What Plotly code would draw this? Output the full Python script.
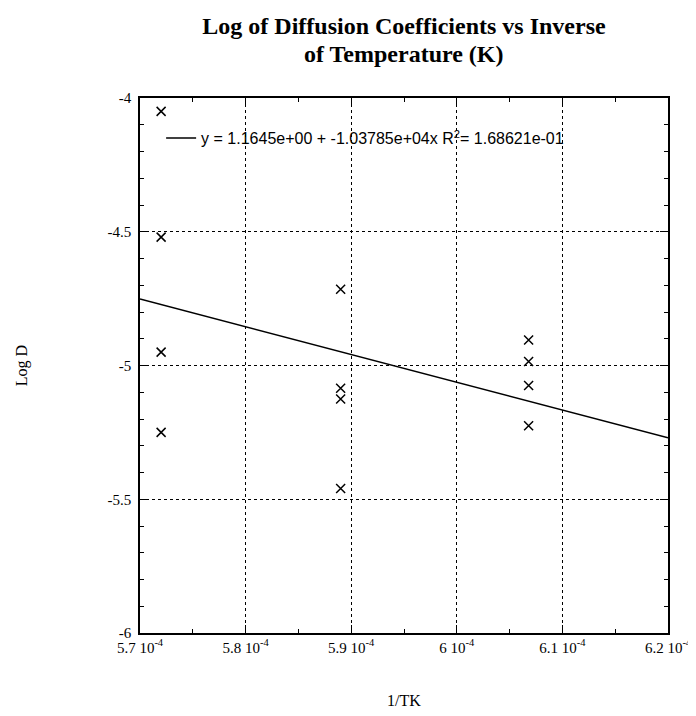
import plotly.graph_objects as go

# Data
inv_t = [5.72e-4, 5.72e-4, 5.72e-4, 5.72e-4,
         5.89e-4, 5.89e-4, 5.89e-4, 5.89e-4,
         6.068e-4, 6.068e-4, 6.068e-4, 6.068e-4]
log_d = [-4.05, -4.52, -4.95, -5.25,
         -4.715, -5.085, -5.125, -5.46,
         -4.905, -4.985, -5.075, -5.225]

fit_intercept = 1.1645
fit_slope = -1.03785e4
fit_x = [5.7e-4, 6.2e-4]
fit_y = [fit_intercept + fit_slope * v for v in fit_x]
fit_label = "y = 1.1645e+00 + -1.03785e+04x R<sup>2</sup>= 1.68621e-01"

title_line1 = "Log of Diffusion Coefficients vs Inverse"
title_line2 = "of Temperature (K)"

x_tickvals = [5.7e-4, 5.8e-4, 5.9e-4, 6.0e-4, 6.1e-4, 6.2e-4]
x_ticktext = ["5.7 10<sup>-4</sup>", "5.8 10<sup>-4</sup>", "5.9 10<sup>-4</sup>",
              "6 10<sup>-4</sup>", "6.1 10<sup>-4</sup>", "6.2 10<sup>-4</sup>"]
y_tickvals = [-6, -5.5, -5, -4.5, -4]
y_ticktext = ["-6", "-5.5", "-5", "-4.5", "-4"]

serif = "Liberation Serif, Times New Roman, serif"
sans = "Liberation Sans, Arial, sans-serif"

fig = go.Figure()
fig.add_trace(go.Scatter(
    x=fit_x, y=fit_y, mode="lines", name=fit_label,
    line=dict(color="black", width=1.5), showlegend=True))
fig.add_trace(go.Scatter(
    x=inv_t, y=log_d, mode="markers", showlegend=False,
    marker=dict(symbol="x-thin", size=9, color="black",
                line=dict(color="black", width=1.5))))

axis_common = dict(
    showline=True, linecolor="black", linewidth=1.5, mirror="allticks",
    ticks="inside", ticklen=8, tickcolor="black", tickwidth=1,
    showgrid=True, gridcolor="black", griddash="dot", gridwidth=1,
    zeroline=False,
    tickfont=dict(family=serif, size=15, color="black"),
)

fig.update_layout(
    width=696, height=716,
    paper_bgcolor="white", plot_bgcolor="white",
    margin=dict(l=127, r=36, t=90, b=91),
    title=dict(
        text="<b>" + title_line1 + "</b>",
        x=0.5, xref="paper", xanchor="center",
        y=0.975, yref="container", yanchor="middle",
        font=dict(family=serif, size=24, color="black")),
    annotations=[dict(
        text="<b>" + title_line2 + "</b>", showarrow=False,
        x=0.5, xref="paper", xanchor="center",
        y=1.082, yref="paper", yanchor="middle",
        font=dict(family=serif, size=24, color="black"))],
    xaxis=dict(
        range=[5.7e-4, 6.2e-4], tickvals=x_tickvals, ticktext=x_ticktext,
        ticklabelstandoff=0,
        minor=dict(ticks="inside", dtick=0.5e-5, ticklen=4, tickcolor="black", showgrid=False),
        title=dict(text="1/TK", standoff=40, font=dict(family=serif, size=16, color="black")),
        **axis_common),
    yaxis=dict(
        range=[-6, -4], tickvals=y_tickvals, ticktext=y_ticktext,
        ticklabelstandoff=4,
        minor=dict(ticks="inside", dtick=0.1, ticklen=4, tickcolor="black", showgrid=False),
        title=dict(text="Log D", standoff=76, font=dict(family=serif, size=16, color="black")),
        **axis_common),
    legend=dict(
        x=0.04, y=0.925, xanchor="left", yanchor="middle",
        bgcolor="rgba(0,0,0,0)", borderwidth=0,
        font=dict(family=sans, size=16, color="black")),
)

fig.write_html("out.html")
